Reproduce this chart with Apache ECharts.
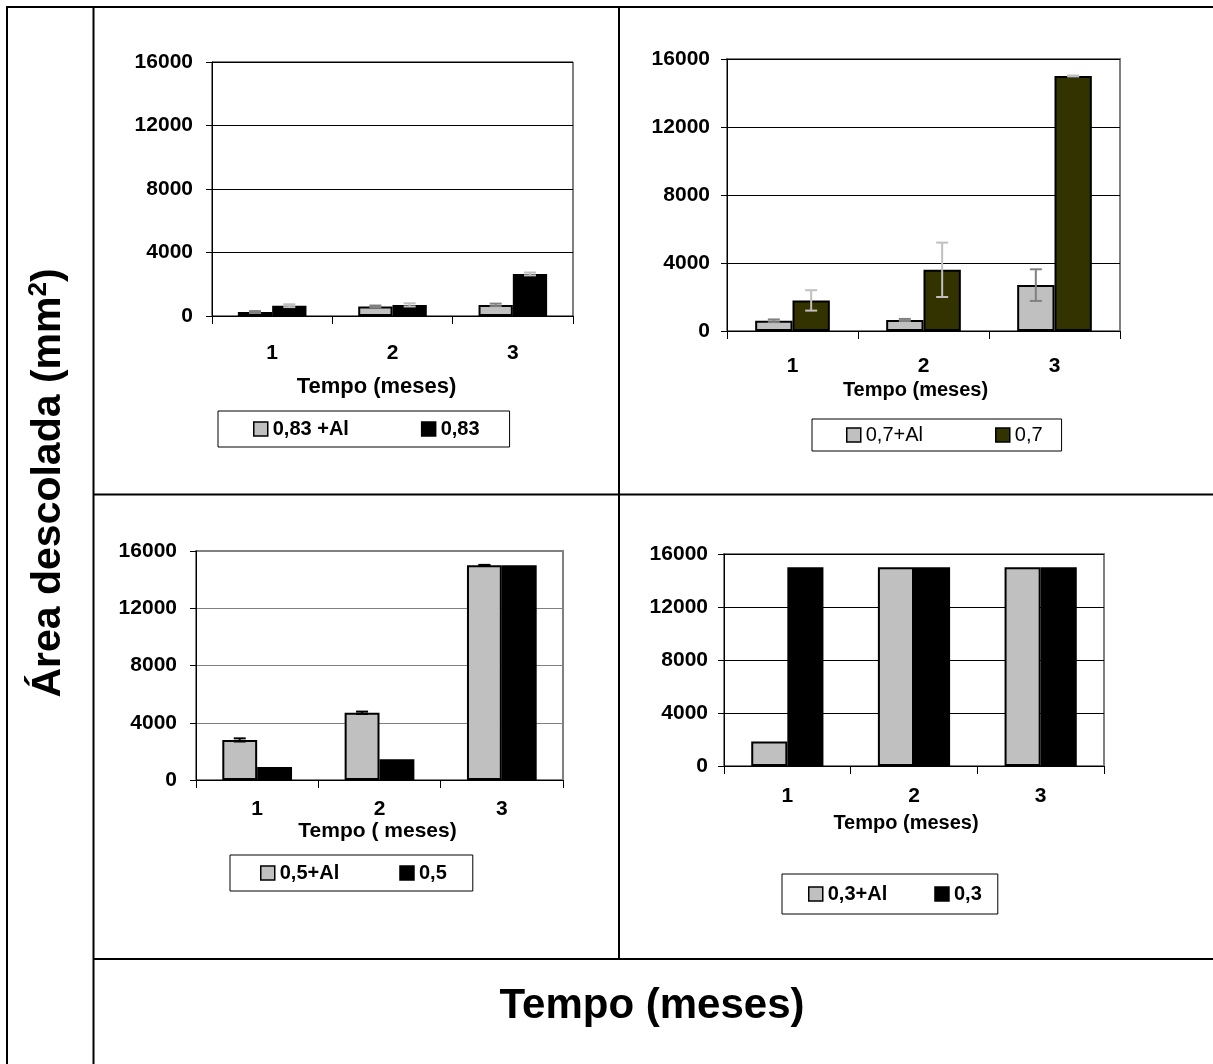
<!DOCTYPE html>
<html>
<head>
<meta charset="utf-8">
<title>Área descolada (mm²) × Tempo (meses)</title>
<script src="https://cdn.jsdelivr.net/npm/echarts@6/dist/echarts.min.js"></script>
<style>
  html, body { margin: 0; padding: 0; background: #ffffff; }
  #chart { width: 1213px; height: 1064px; }
</style>
</head>
<body>
<div id="chart"></div>
<script>
// ---- data -------------------------------------------------------------
const months = ['1', '2', '3'];
const yTicks = [0, 4000, 8000, 12000, 16000];

// relação 0,83
const names083 = ['0,83 +Al', '0,83'];
const area083Al = [250, 600, 700];
const err083Al = [60, 60, 80];
const area083 = [650, 700, 2650];
const err083 = [90, 100, 90];

// relação 0,7
const names07 = ['0,7+Al', '0,7'];
const area07Al = [600, 650, 2700];
const err07Al = [80, 60, 930];
const area07 = [1800, 3600, 15000];
const err07 = [600, 1600, 30];

// relação 0,5
const names05 = ['0,5+Al', '0,5'];
const area05Al = [2800, 4700, 15000];
const err05Al = [110, 80, 30];
const area05 = [900, 1450, 15000];

// relação 0,3
const names03 = ['0,3+Al', '0,3'];
const area03Al = [1850, 15000, 15000];
const area03 = [15000, 15000, 15000];

// ---- styling helpers ----------------------------------------------------
const FONT = "'Liberation Sans', Arial, Helvetica, sans-serif";
const GRAY = '#c0c0c0';
const OLIVE = '#333300';
const CAT_GAP = 0.43;

// nameShift moves an axis title left of the plot centre (px)
const panels = [
  { grid: { left: 212, top: 62, width: 361, height: 254 }, frame: '#000000', frameW: 1, split: '#000000',
    labelMargin: 27, nameGap: 60, nameSize: 22, nameShift: 16, yMargin: 19, xName: 'Tempo (meses)' },
  { grid: { left: 727, top: 59, width: 393, height: 272 }, frame: '#808080', frameW: 2, split: '#000000',
    labelMargin: 25, nameGap: 49, nameSize: 20, nameShift: 8, yMargin: 17, xName: 'Tempo (meses)' },
  { grid: { left: 196, top: 551, width: 367, height: 229 }, frame: '#808080', frameW: 2, split: '#808080',
    labelMargin: 19, nameGap: 36, nameSize: 21, nameShift: 2, yMargin: 19, xName: 'Tempo ( meses)' },
  { grid: { left: 724, top: 554, width: 380, height: 212 }, frame: '#808080', frameW: 2, split: '#000000',
    labelMargin: 20, nameGap: 47, nameSize: 20, nameShift: 8, yMargin: 16, xName: 'Tempo (meses)' }
];

const grids = panels.map(p => Object.assign({
  show: true, backgroundColor: '#ffffff', borderColor: p.frame, borderWidth: p.frameW
}, p.grid));

const xAxes = panels.map((p, i) => ({
  type: 'category', gridIndex: i, data: months,
  axisLine: { lineStyle: { color: '#000', width: 1 } },
  axisTick: { show: true, length: 8, lineStyle: { color: '#000' } },
  axisLabel: { color: '#000', fontFamily: FONT, fontWeight: 'bold', fontSize: 21, margin: p.labelMargin },
  name: p.xName, nameLocation: 'middle', nameGap: p.nameGap,
  nameTextStyle: {
    color: '#000', fontFamily: FONT, fontWeight: 'bold', fontSize: p.nameSize,
    padding: [0, p.nameShift * 2, 0, 0]
  }
}));

const yAxes = panels.map((p, i) => ({
  type: 'value', gridIndex: i, min: yTicks[0], max: yTicks[yTicks.length - 1], interval: 4000,
  axisLine: { show: true, lineStyle: { color: '#000', width: 1 } },
  axisTick: { show: true, length: 6, lineStyle: { color: '#000' } },
  axisLabel: {
    color: '#000', fontFamily: FONT, fontWeight: 'bold', fontSize: 21, margin: p.yMargin,
    formatter: v => String(v)
  },
  splitLine: { show: true, lineStyle: { color: p.split, width: 1 } }
}));

function barSeries(name, values, color, idx) {
  return {
    name: name, type: 'bar', xAxisIndex: idx, yAxisIndex: idx, data: values,
    barGap: '0%', barCategoryGap: (CAT_GAP * 100) + '%',
    itemStyle: { color: color, borderColor: '#000', borderWidth: 2 },
    emphasis: { disabled: true }, animation: false, z: 2
  };
}

// Error bars drawn over a bar: side -1 = first bar of the pair, +1 = second.
function errorSeries(values, errors, side, color, idx) {
  return {
    type: 'custom', xAxisIndex: idx, yAxisIndex: idx, z: 5, silent: true, animation: false,
    data: values.map((v, i) => [i, v, errors[i]]),
    encode: { x: 0, y: 1 },
    renderItem: function (params, api) {
      const cat = api.value(0), v = api.value(1), e = api.value(2);
      const band = api.size([1, 0])[0];
      const off = band * (1 - CAT_GAP) / 4 * side;
      const top = api.coord([cat, v + e]);
      const bot = api.coord([cat, Math.max(0, v - e)]);
      const x = top[0] + off;
      const cap = 6;
      const st = { stroke: color, lineWidth: 2 };
      return {
        type: 'group', children: [
          { type: 'line', shape: { x1: x, y1: top[1], x2: x, y2: bot[1] }, style: st },
          { type: 'line', shape: { x1: x - cap, y1: top[1], x2: x + cap, y2: top[1] }, style: st },
          { type: 'line', shape: { x1: x - cap, y1: bot[1], x2: x + cap, y2: bot[1] }, style: st }
        ]
      };
    }
  };
}

const series = [
  barSeries(names083[0], area083Al, GRAY, 0),
  barSeries(names083[1], area083, '#000000', 0),
  errorSeries(area083Al, err083Al, -1, '#808080', 0),
  errorSeries(area083, err083, 1, GRAY, 0),

  barSeries(names07[0], area07Al, GRAY, 1),
  barSeries(names07[1], area07, OLIVE, 1),
  errorSeries(area07Al, err07Al, -1, '#808080', 1),
  errorSeries(area07, err07, 1, GRAY, 1),

  barSeries(names05[0], area05Al, GRAY, 2),
  barSeries(names05[1], area05, '#000000', 2),
  errorSeries(area05Al, err05Al, -1, '#000000', 2),

  barSeries(names03[0], area03Al, GRAY, 3),
  barSeries(names03[1], area03, '#000000', 3)
];

function legendBox(data, left, top, pad, gap, bold) {
  return {
    data: data, left: left, top: top, orient: 'horizontal',
    padding: pad, itemGap: gap, itemWidth: 14, itemHeight: 14, icon: 'rect',
    selectedMode: false, borderColor: '#000', borderWidth: 1, backgroundColor: '#ffffff',
    itemStyle: { borderColor: '#000', borderWidth: 1.5 },
    textStyle: { color: '#000', fontFamily: FONT, fontSize: 20, fontWeight: bold ? 'bold' : 'normal', padding: [0, 0, 0, 0] }
  };
}

const legends = [
  legendBox(names083, 218, 411, [8, 30, 8, 35], 72, true),
  legendBox(names07, 812, 419, [6, 19, 6, 34], 72, false),
  legendBox(names05, 230, 855, [8, 26, 8, 30], 60, true),
  legendBox(names03, 782, 874, [10, 16, 10, 26], 47, true)
];

// ---- table frame and shared titles -------------------------------------
const lineStyle = { stroke: '#000', lineWidth: 2 };
const graphic = [
  { type: 'line', shape: { x1: 6, y1: 7, x2: 1213, y2: 7 }, style: lineStyle, z: 100 },
  { type: 'line', shape: { x1: 7, y1: 6, x2: 7, y2: 1064 }, style: lineStyle, z: 100 },
  { type: 'line', shape: { x1: 93.5, y1: 6, x2: 93.5, y2: 1064 }, style: lineStyle, z: 100 },
  { type: 'line', shape: { x1: 619, y1: 6, x2: 619, y2: 959 }, style: lineStyle, z: 100 },
  { type: 'line', shape: { x1: 93, y1: 494.5, x2: 1213, y2: 494.5 }, style: lineStyle, z: 100 },
  { type: 'line', shape: { x1: 93, y1: 959, x2: 1213, y2: 959 }, style: lineStyle, z: 100 },
  {
    type: 'text', x: 49, y: 483, rotation: Math.PI / 2, z: 100,
    style: {
      text: '{a|Área descolada (mm}{s|2}{a|)}',
      align: 'center', verticalAlign: 'middle',
      rich: {
        a: { fontFamily: FONT, fontWeight: 'bold', fontSize: 41, fill: '#000' },
        s: { fontFamily: FONT, fontWeight: 'bold', fontSize: 26, fill: '#000', verticalAlign: 'top', padding: [0, 0, 20, 0] }
      }
    }
  },
  {
    type: 'text', x: 652, y: 1006, z: 100,
    style: {
      text: 'Tempo (meses)', align: 'center', verticalAlign: 'middle',
      fontFamily: FONT, fontWeight: 'bold', fontSize: 42, fill: '#000'
    }
  }
];

const chart = echarts.init(document.getElementById('chart'), null, { renderer: 'canvas' });
chart.setOption({
  backgroundColor: '#ffffff',
  animation: false,
  grid: grids,
  xAxis: xAxes,
  yAxis: yAxes,
  legend: legends,
  series: series,
  graphic: graphic
});
</script>
</body>
</html>
